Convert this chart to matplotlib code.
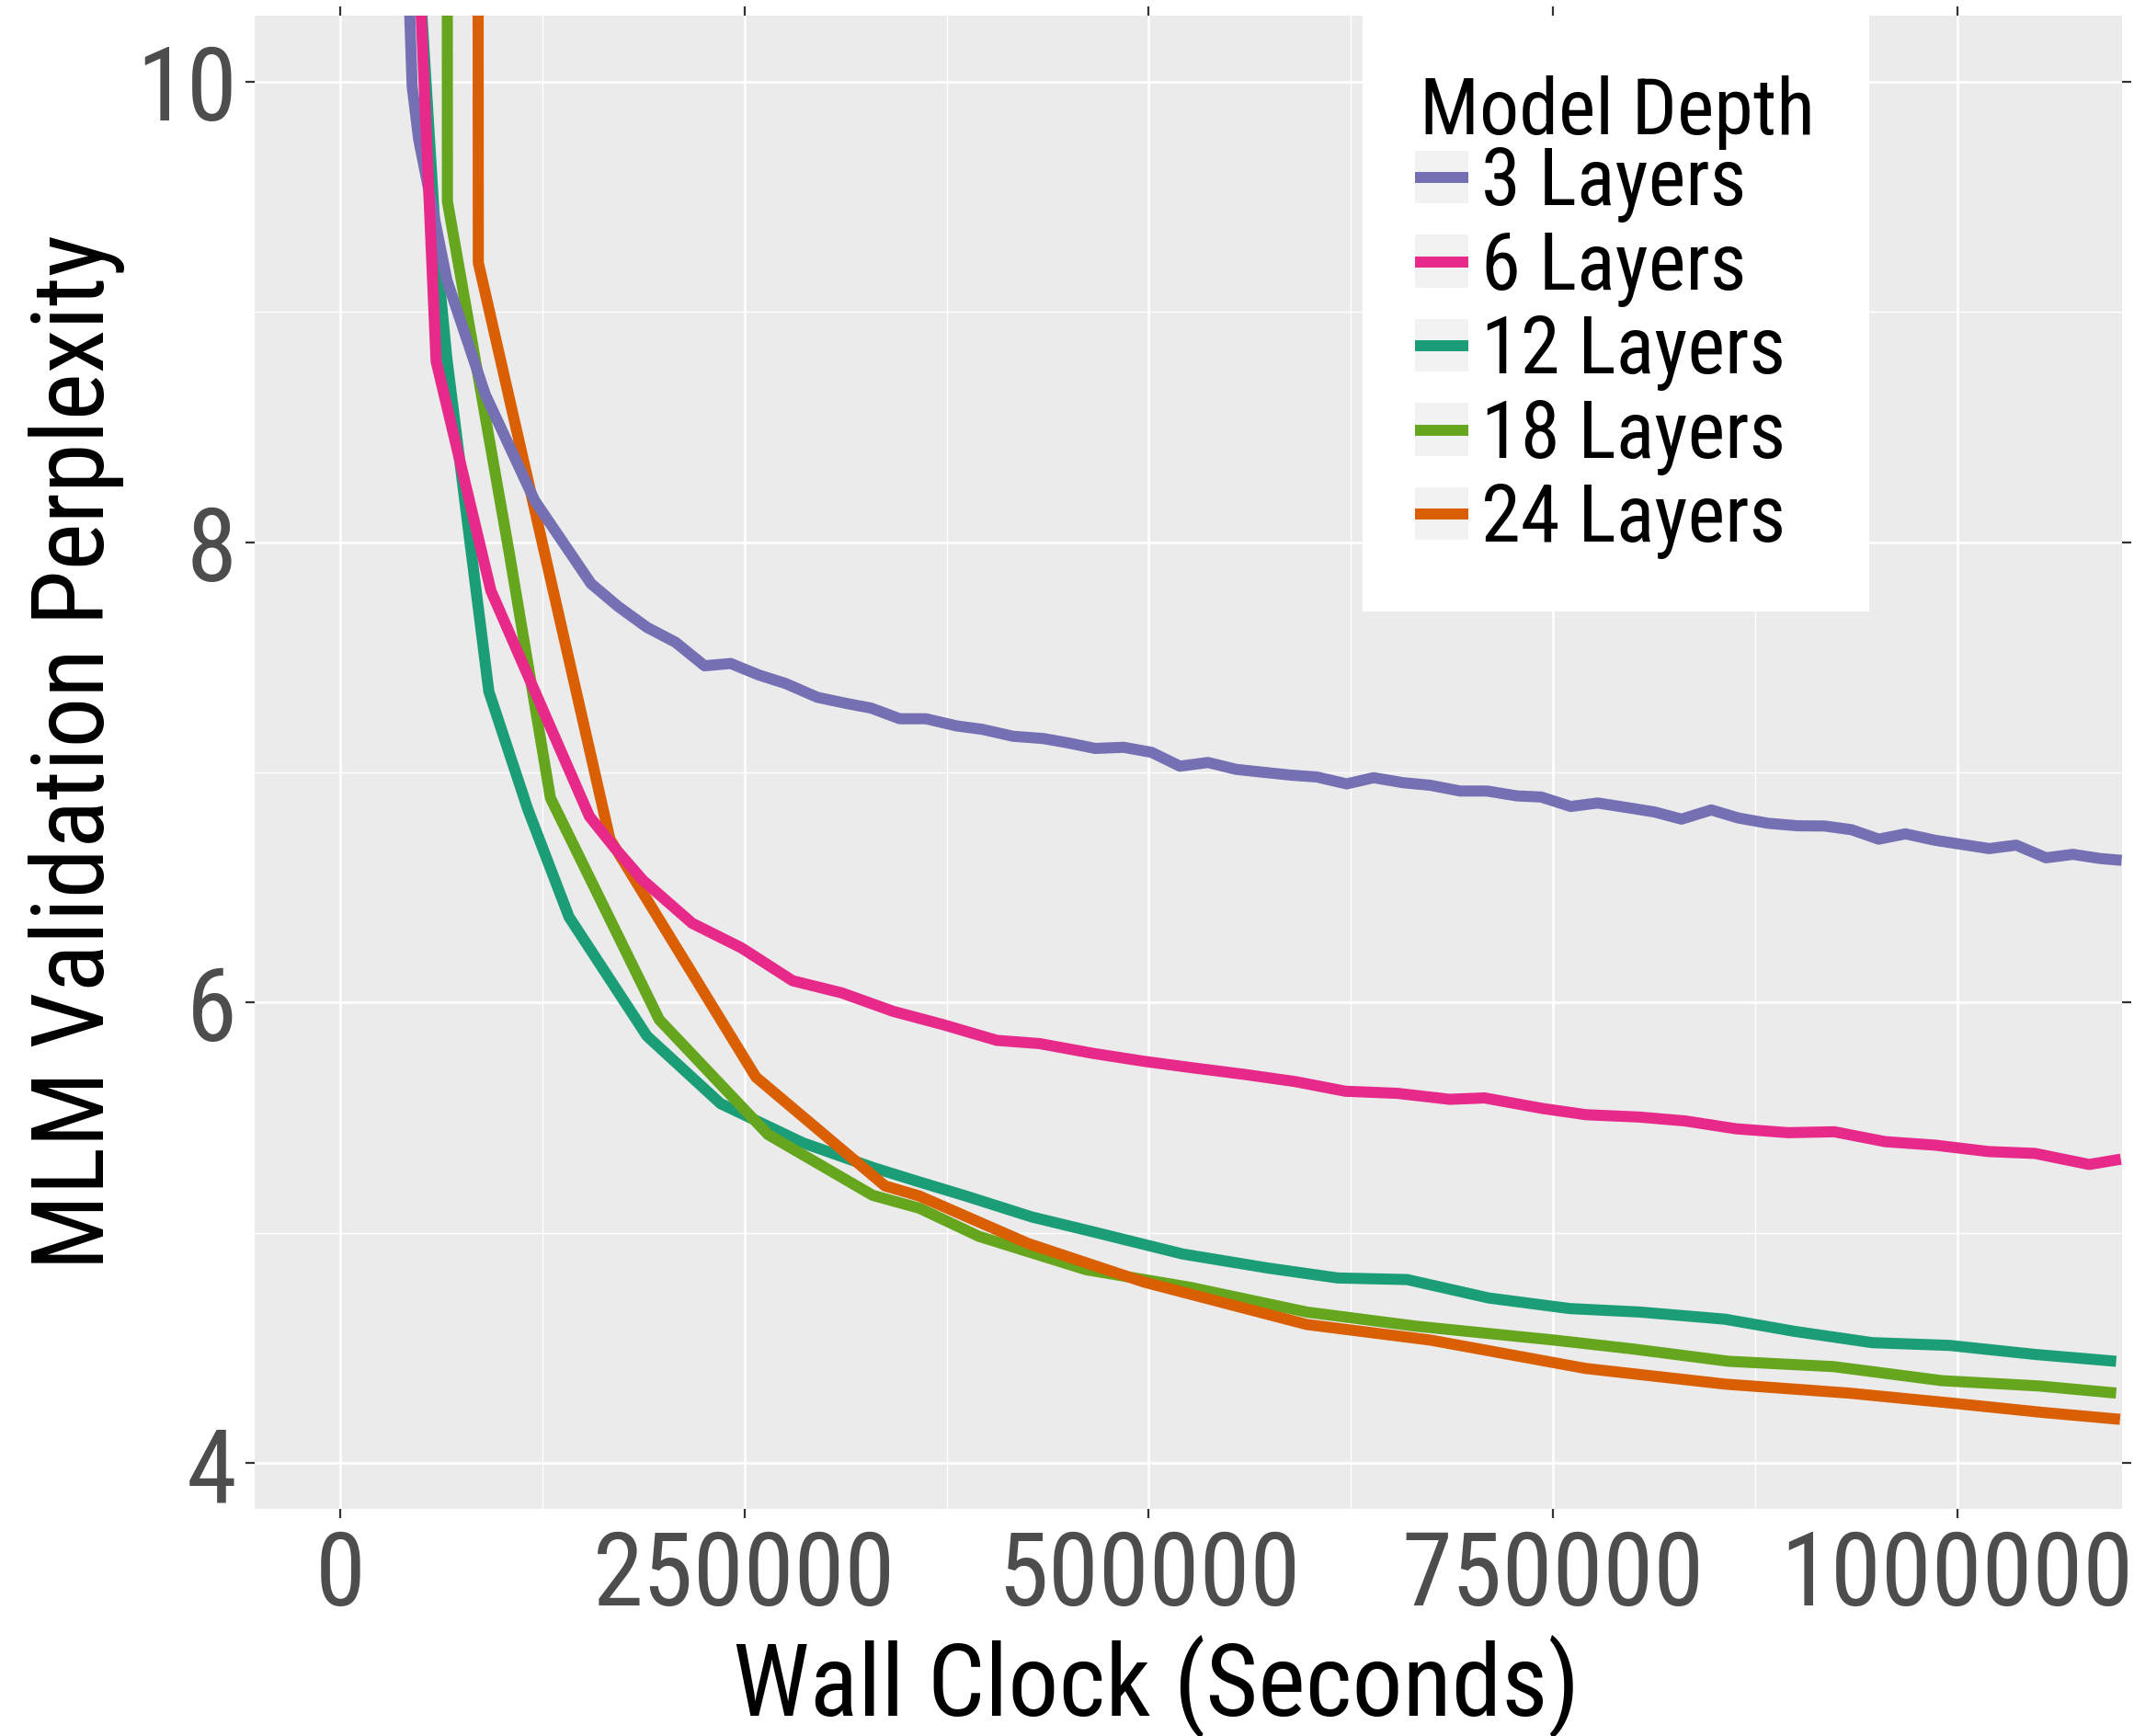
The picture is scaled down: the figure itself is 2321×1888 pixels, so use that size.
import matplotlib
matplotlib.use("Agg")
import matplotlib.pyplot as plt
from matplotlib import font_manager
from matplotlib.patches import Rectangle
from matplotlib.lines import Line2D
from matplotlib.ticker import MultipleLocator, FuncFormatter

# values: wall clock (s) vs MLM validation perplexity
# (first point of each series sits above the visible range)
layers_3_x = [27000, 44500, 48500, 65900, 89800, 120300, 155100, 172000, 189700, 207400,
              225300, 241500, 258900, 275500, 295100, 312700, 328400, 346000, 362200, 381100,
              397100, 416000, 434900, 450900, 466900, 484400, 501800, 519300, 536700, 554200,
              571600, 588000, 604000, 622400, 639100, 657500, 674200, 692600, 709300, 727600,
              742700, 761000, 777700, 796000, 812800, 829500, 847900, 864600, 883000, 901300,
              918000, 934700, 951400, 968000, 986400, 1003100, 1019800, 1036500, 1054900,
              1071600, 1088300, 1101700]
layers_3_y = [13.6, 9.98, 9.75, 9.14, 8.64, 8.18, 7.82, 7.72, 7.63, 7.565,
              7.463, 7.473, 7.423, 7.386, 7.326, 7.300, 7.279, 7.233, 7.233, 7.202,
              7.187, 7.157, 7.147, 7.127, 7.104, 7.109, 7.087, 7.027, 7.043, 7.013,
              7.000, 6.988, 6.980, 6.950, 6.977, 6.955, 6.944, 6.919, 6.919, 6.898,
              6.893, 6.852, 6.867, 6.847, 6.828, 6.797, 6.837, 6.802, 6.779, 6.768,
              6.767, 6.751, 6.710, 6.733, 6.705, 6.687, 6.669, 6.684, 6.629,
              6.644, 6.626, 6.618]

layers_6_x = [42000, 59300, 93200, 154100, 169400, 187100, 217600, 248100, 279800, 310300,
              342000, 372500, 406100, 432500, 466000, 497200, 525900, 559400, 590600, 621700,
              653800, 686100, 707700, 743700, 770600, 803200, 831800, 863200, 895500, 924100,
              955500, 986100, 1019500, 1048100, 1081600, 1101200]
layers_6_y = [11.6, 8.786, 7.789, 6.809, 6.675, 6.532, 6.345, 6.238, 6.095, 6.042,
              5.962, 5.905, 5.836, 5.822, 5.779, 5.745, 5.718, 5.688, 5.657, 5.615,
              5.606, 5.580, 5.586, 5.540, 5.513, 5.503, 5.486, 5.452, 5.435, 5.439,
              5.396, 5.381, 5.353, 5.345, 5.297, 5.320]

layers_12_x = [40000, 59300, 65900, 91900, 116000, 141500, 189700, 235300, 286100, 329300,
               358200, 386900, 427700, 463600, 521100, 573800, 616900, 659900, 710300, 760600,
               803700, 856400, 899500, 947400, 995300, 1048000, 1098300]
layers_12_y = [11.5, 9.28, 8.80, 7.352, 6.84, 6.372, 5.855, 5.561, 5.391, 5.284,
               5.221, 5.160, 5.069, 5.008, 4.908, 4.847, 4.804, 4.797, 4.717, 4.671,
               4.656, 4.625, 4.572, 4.523, 4.511, 4.472, 4.442]

layers_18_x = [66000, 66300, 104600, 130000, 197300, 264600, 329300, 358200, 394900, 461200,
               525900, 597700, 664800, 751000, 799000, 858800, 923500, 990500, 1050400, 1098300]
layers_18_y = [13.0, 9.48, 7.95, 6.889, 5.926, 5.427, 5.163, 5.107, 4.985, 4.840,
               4.763, 4.656, 4.595, 4.534, 4.496, 4.442, 4.419, 4.358, 4.335, 4.304]

layers_24_x = [85000, 85400, 166800, 257000, 336900, 358200, 425300, 497200, 597700, 674400,
               770200, 856400, 932900, 1000100, 1052800, 1100700]
layers_24_y = [13.0, 9.214, 6.710, 5.677, 5.204, 5.160, 4.954, 4.786, 4.602, 4.534,
               4.411, 4.343, 4.304, 4.258, 4.220, 4.190]

labels = ["3 Layers", "6 Layers", "12 Layers", "18 Layers", "24 Layers"]
colors = ["#7570B3", "#E7298A", "#1B9E77", "#66A61E", "#D95F02"]
xs = [layers_3_x, layers_6_x, layers_12_x, layers_18_x, layers_24_x]
ys = [layers_3_y, layers_6_y, layers_12_y, layers_18_y, layers_24_y]
# ggplot drew the groups in alphabetical order of the labels
zorders = [2.4, 2.5, 2.1, 2.2, 2.3]

x_ticks = [0, 250000, 500000, 750000, 1000000]
y_ticks = [4, 6, 8, 10]

fonts = {f.name for f in font_manager.fontManager.ttflist}
if "Roboto Condensed" in fonts:
    font, k = "Roboto Condensed", 1.0
else:
    font, k = "Roboto", 0.88
plt.rcParams["font.family"] = [font, "DejaVu Sans"]

W, H = 2321, 1888
fig = plt.figure(figsize=(W / 100, H / 100), dpi=100)
ax = fig.add_axes([277 / W, 1 - 1641 / H, (2308 - 277) / W, (1641 - 17) / H])
ax.set_facecolor("#EBEBEB")
for s in ax.spines.values():
    s.set_visible(False)

for x, y, c, z in zip(xs, ys, colors, zorders):
    ax.plot(x, y, color=c, lw=8.7, solid_capstyle="butt", solid_joinstyle="round", zorder=z)

ax.set_xlim(-52900, 1101950)
ax.set_ylim(3.801, 10.287)
ax.set_xticks(x_ticks)
ax.set_yticks(y_ticks)
ax.xaxis.set_minor_locator(MultipleLocator(125000))
ax.yaxis.set_minor_locator(MultipleLocator(1))
ax.xaxis.set_major_formatter(FuncFormatter(lambda v, p: f"{v:.0f}"))
ax.grid(which="major", color="white", lw=1.9)
ax.grid(which="minor", color="white", lw=0.95)
ax.set_axisbelow(True)
ax.tick_params(which="major", direction="out", length=7.2, width=1.6, color="#333333",
               top=True, right=True, labelsize=80 * k, labelcolor="#4D4D4D")
ax.tick_params(axis="x", pad=8)
ax.tick_params(axis="y", pad=6.5)
ax.tick_params(which="minor", length=0)

fig.text(1258 / W, 1 - 1867 / H, "Wall Clock (Seconds)", ha="center", va="baseline",
         fontsize=79 * k)
fig.text(113 / W, 1 - 818 / H, "MLM Validation Perplexity", rotation=90,
         rotation_mode="anchor", ha="center", va="baseline", fontsize=78.5 * k)

# legend: white box, title, grey keys with coloured line
ax.add_patch(Rectangle((1482 / W, 1 - 665 / H), 551 / W, 648 / H, transform=fig.transFigure,
                       facecolor="white", edgecolor="none", zorder=4, clip_on=False))
fig.text(1544 / W, 1 - 146 / H, "Model Depth", ha="left", va="baseline", fontsize=62 * k,
         zorder=6)
handles = [(Rectangle((0, 0), 1, 1, facecolor="#F2F2F2", edgecolor="none"),
            Line2D([], [], color=c, lw=8.6, solid_capstyle="butt")) for c in colors]
ax.legend(handles, labels, loc="upper left", bbox_to_anchor=(1539 / W, 1 - 157 / H),
          bbox_transform=fig.transFigure, frameon=False, borderpad=0, borderaxespad=0,
          fontsize=62.5 * k, handlelength=0.67, handleheight=0.64, handletextpad=0.16,
          labelspacing=0.075)

fig.savefig("out.png", dpi=100, facecolor="white")
